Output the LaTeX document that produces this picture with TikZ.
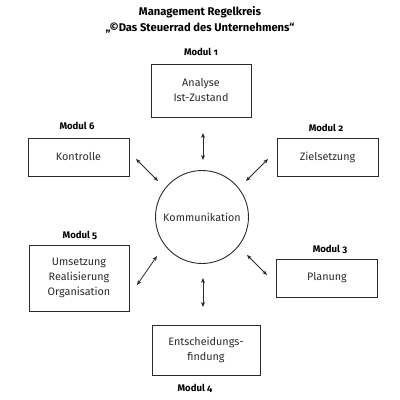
\documentclass[tikz,border=0pt]{standalone}
\usepackage{fontspec}
\setmainfont{Fira Sans}[Numbers=OldStyle]
\usetikzlibrary{arrows.meta}
\definecolor{ink}{HTML}{2A2A2A}
\begin{document}
\begin{tikzpicture}[x=1pt,y=-1pt,
  box/.style={draw=ink,line width=0.9pt,minimum width=101pt,align=center,inner sep=0pt,text=ink,font=\fontsize{10.8}{15}\selectfont},
  modlabel/.style={font=\bfseries\fontsize{9.6}{11}\selectfont,text=black,inner sep=0pt},
  link/.style={draw=ink,line width=0.8pt,{Stealth[length=5pt,width=4pt]}-{Stealth[length=5pt,width=4pt]}}]
\useasboundingbox (0,0) rectangle (400,400);
\node[font=\bfseries\fontsize{11.2}{16}\selectfont,align=center,inner sep=0pt] (title) at (200,20) {Management Regelkreis\\„©Das Steuerrad des Unternehmens“};
\node[draw=ink,line width=0.9pt,circle,minimum size=93pt,inner sep=0pt,text=ink,font=\fontsize{10.8}{12}\selectfont] (k) at (202,217) {Kommunikation};
\node[box,minimum height=53pt,minimum width=100pt] (m1) at (201,90.5) {Analyse\\Ist-Zustand};
\node[box,minimum height=38pt] (m2) at (327.5,157) {Zielsetzung};
\node[box,minimum height=38pt] (m3) at (327,278) {Planung};
\node[box,minimum height=50pt,minimum width=108pt] (m4) at (206,350) {Entscheidungs-\\findung};
\node[box,minimum height=66pt,minimum width=100pt] (m5) at (79,278) {Umsetzung\\Realisierung\\Organisation};
\node[box,minimum height=38pt] (m6) at (78.5,157) {Kontrolle};
\node[modlabel] (l1) at (201,52) {Modul 1};
\node[modlabel] (l2) at (326,128) {Modul 2};
\node[modlabel] (l3) at (330,249) {Modul 3};
\node[modlabel] (l4) at (195,388) {Modul 4};
\node[modlabel] (l5) at (80,235) {Modul 5};
\node[modlabel] (l6) at (77,126) {Modul 6};
\coordinate (a1s) at (203,133); \coordinate (a1e) at (203,160);
\coordinate (a2s) at (246,181); \coordinate (a2e) at (268,159);
\coordinate (a3s) at (247,255); \coordinate (a3e) at (267,275);
\coordinate (a4s) at (203,278); \coordinate (a4e) at (203,307);
\coordinate (a5s) at (137,285); \coordinate (a5e) at (157,256);
\coordinate (a6s) at (136,159); \coordinate (a6e) at (158,181);
\draw[link] (a1s) -- (a1e);
\draw[link] (a2s) -- (a2e);
\draw[link] (a3s) -- (a3e);
\draw[link] (a4s) -- (a4e);
\draw[link] (a5s) -- (a5e);
\draw[link] (a6s) -- (a6e);
\end{tikzpicture}
\end{document}
